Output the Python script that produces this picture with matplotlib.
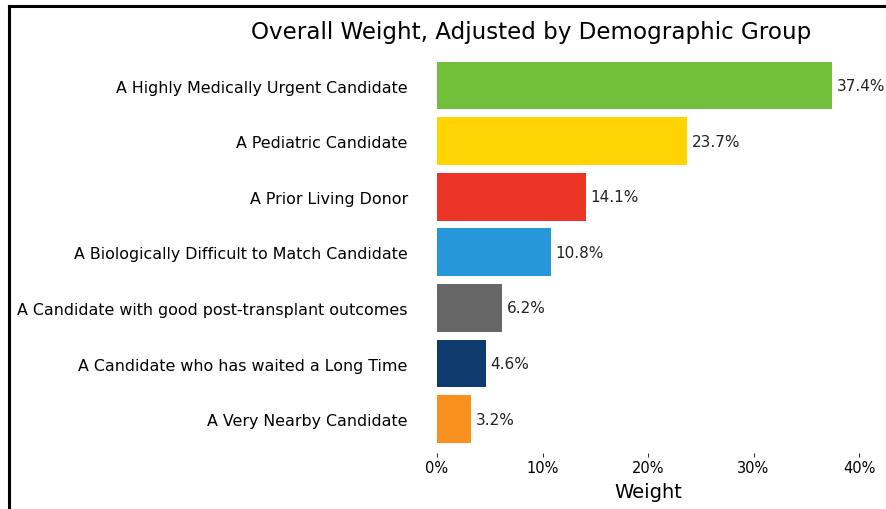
import matplotlib.pyplot as plt
from matplotlib.lines import Line2D

# data, top to bottom
groups = [
    'A Highly Medically Urgent Candidate',
    'A Pediatric Candidate',
    'A Prior Living Donor',
    'A Biologically Difficult to Match Candidate',
    'A Candidate with good post-transplant outcomes',
    'A Candidate who has waited a Long Time',
    'A Very Nearby Candidate',
]
weights = [37.4, 23.7, 14.1, 10.8, 6.2, 4.6, 3.2]
colors = ['#72BF3C', '#FFD400', '#EC3526', '#2797D9', '#666666', '#0E3A6E', '#F7901E']
xticks = [0, 10, 20, 30, 40]

fig = plt.figure(figsize=(8.86, 5.10), dpi=100)
ax = fig.add_axes([437 / 886, 56 / 510, 422 / 886, 398 / 510])

ypos = list(range(len(groups) - 1, -1, -1))
bars = ax.barh(ypos, weights, height=0.86, color=colors)
for b, w in zip(bars, weights):
    ax.text(w + 0.45, b.get_y() + b.get_height() / 2, f'{w}%',
            va='center', ha='left', fontsize=11, color='#222222', clip_on=False)

ax.set_yticks(ypos)
ax.set_yticklabels(groups, fontsize=11.4)
ax.set_xticks(xticks)
ax.set_xticklabels([f'{t}%' for t in xticks], fontsize=10.5)
ax.set_xlim(0, 40)
ax.set_ylim(-0.61, 6.55)
ax.tick_params(axis='y', length=0, pad=21)
ax.tick_params(axis='x', length=3, width=0.6, pad=2)
for s in ax.spines.values():
    s.set_visible(False)
ax.set_xlabel('Weight', fontsize=14, labelpad=5)

fig.text(531 / 886, 1 - 32 / 510, 'Overall Weight, Adjusted by Demographic Group',
         ha='center', va='center', fontsize=16.6)

# frame around the screenshot (top and left edges)
fig.add_artist(Line2D([9 / 886, 9 / 886], [0, 1 - 7 / 510], transform=fig.transFigure,
                      color='black', lw=2.2))
fig.add_artist(Line2D([9 / 886, 1], [1 - 7 / 510, 1 - 7 / 510], transform=fig.transFigure,
                      color='black', lw=2.2))

fig.savefig('out.png', dpi=100)
